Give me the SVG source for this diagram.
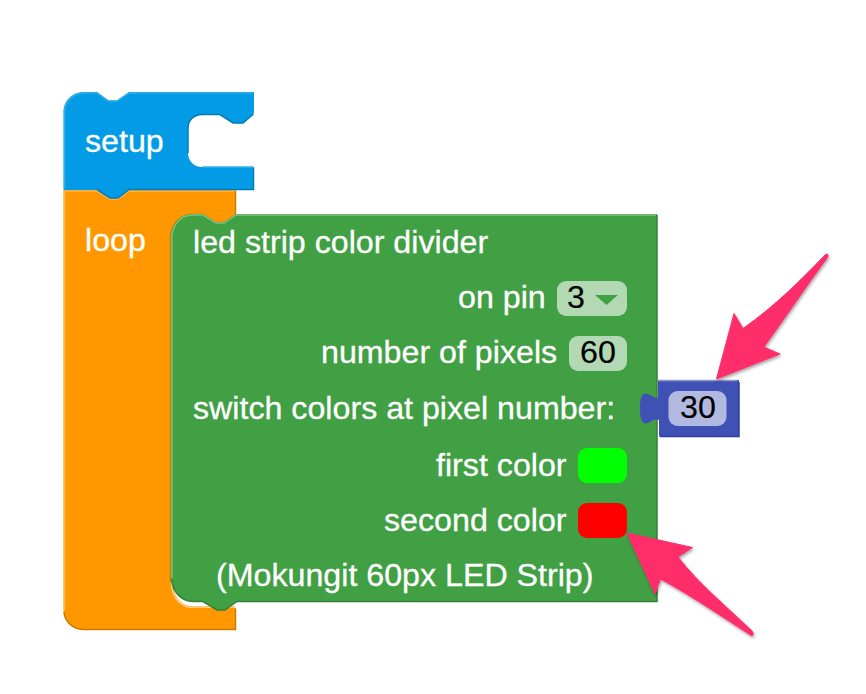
<svg xmlns="http://www.w3.org/2000/svg" width="866" height="694" viewBox="0 0 866 694">
<style>
.t{font-family:"Liberation Sans",Arial,sans-serif;font-size:32.2px;fill:#fff;stroke:#fff;stroke-width:.3}
.v{font-family:"Liberation Sans",Arial,sans-serif;font-size:32.2px;fill:#000;stroke:#000;stroke-width:.2}
.f{fill:#fff;fill-opacity:.6}
.hl{fill:none;stroke-width:1.5}
.arrow{fill:#ff2d6b;stroke:#ff2d6b;stroke-width:1;stroke-linejoin:round;filter:url(#sh)}
</style>
<defs>
<filter id="sh" x="-20%" y="-20%" width="140%" height="140%"><feDropShadow dx="1" dy="2" stdDeviation="1.5" flood-color="#000" flood-opacity=".35"/></filter>
</defs>
<rect width="866" height="694" fill="#fff"/>
<g id="loop">
<path d="M63.500 190H97L110 198H118L129 190H236V215L224 223H216L203 215H192C180 215 171 225 171 238V582C171 597 180 608 193 608H236V630H84C72 630 63.500 621 63.500 610Z" fill="#ff9800"/>
<path d="M64.500 610V191H97L110 199H118L129 191H235" class="hl" stroke="#ffb74d"/>
<path d="M235.500 191V215L224 222.500H216L203 214.500H192C180 214.500 170.500 225 170.500 238V582" class="hl" stroke="#cc7a00"/>
<path d="M64 612C65 622 73 629.500 84 629.500H235.500V609" class="hl" stroke="#cc7a00"/>
<path d="M172 584C173 597 181 607 193 607H235" class="hl" stroke="#ffb74d"/>
<text class="t" x="85" y="251">loop</text>
</g>
<g id="setup">
<path d="M63.500 190V112C63.500 101 72 92 84 92H97L108.500 100.500H117L129 92H254V113L243 123H233L220 114.500H202C194 114.500 188 120 188 128V153C188 161 194 167 202 167H254V190H129L118 198H110L97 190Z" fill="#039be5"/>
<path d="M64.500 188V112C64.500 101 73 93 84 93H97L108.500 101H117L129 93H253" class="hl" stroke="#35afea"/>
<path d="M253.500 114L243 123H233L220 114.500H202C194 114.500 188 120 188 128V153" class="hl" stroke="#027cb7"/>
<path d="M202 167H253" class="hl" stroke="#35afea"/>
<path d="M253.500 168V189.500H129L118 198H110L97 189.500" class="hl" stroke="#027cb7"/>
<text class="t" x="85" y="152">setup</text>
</g>
<g id="divider">
<path d="M171 238C171 225 180 214 192 214H203L216 222.500H224L236 214H657V601.500H237L225 610H217L203 601.500H193C180 601.500 171 592 171 578Z" fill="#41a044"/>
<path d="M171.800 578V238C171.800 225 181 215 192 215H203L216 223H224L236 215H656" class="hl" stroke="#7bc47f"/>
<path d="M657 215V601.500H237L225 610H217L203 601.500H193C182 601.500 173 592 172 580" class="hl" stroke="#35803a"/>
<text class="t" x="193" y="253">led strip color divider</text>
<text class="t" x="458" y="308">on pin</text>
<rect class="f" x="557" y="281" width="70" height="35" rx="9"/>
<text class="v" x="567" y="308">3</text>
<path d="M595 295H618L606.500 305Z" fill="#41a044"/>
<text class="t" x="321" y="363">number of pixels</text>
<rect class="f" x="569" y="336" width="58" height="35" rx="9"/>
<text class="v" x="580" y="363">60</text>
<text class="t" x="193" y="419">switch colors at pixel number:</text>
<text class="t" x="436" y="476">first color</text>
<rect x="578" y="448" width="49" height="35" rx="9" fill="#0f0"/>
<text class="t" x="384" y="531">second color</text>
<rect x="578" y="503" width="49" height="35" rx="9" fill="#f00"/>
<text class="t" x="216" y="586">(Mokungit 60px LED Strip)</text>
</g>
<g id="number">
<path d="M658 380H739V436.500H659V420C652 418 650 424 645 423.500C641 423 640 416 640 408.500C640 400 641 394 645 393.500C650 393 652 398 658 398Z" fill="#3f51b5"/>
<path d="M658 380.500H737" class="hl" stroke="#8e97cf"/>
<path d="M739 382V436.500H660" class="hl" stroke="#303f9f"/>
<rect class="f" x="668.500" y="391" width="58" height="35" rx="9"/>
<text class="v" x="680" y="418">30</text>
</g>
<g id="connectors">
<path class="arrow" d="M716.500 379L734 313.500L743 328.500C775 306 800 281 825 255C828 252 829 256 827 258C805 288 785 318 764 347L780 354Z"/>
<path class="arrow" d="M627 533L692.500 547.500L678 557C700 585 725 605 752 631C755 635 752 637 749 634C715 612 690 595 660.500 579L655 594Z"/>
</g>
</svg>
